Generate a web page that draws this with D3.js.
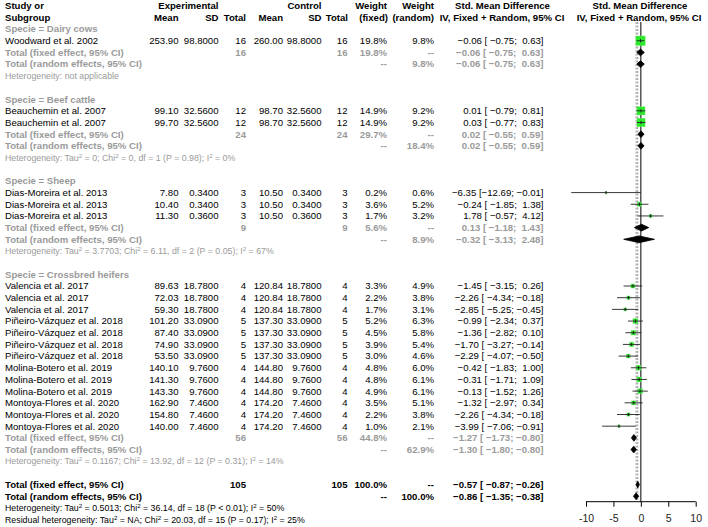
<!DOCTYPE html>
<html><head><meta charset="utf-8">
<script src="https://cdn.jsdelivr.net/npm/d3@7"></script>
<style>
body{margin:0;background:#fff;}
svg text{font-family:"Liberation Sans",Arial,sans-serif;white-space:pre;}
</style></head>
<body><svg id="c" width="708" height="527"></svg>
<script>
// ---------- data ----------
const subgroups = ["Dairy cows","Beef cattle","Sheep","Crossbred heifers"];
const studyNames = ["Woodward et al. 2002","Beauchemin et al. 2007","Beauchemin et al. 2007",
 "Dias-Moreira et al. 2013","Dias-Moreira et al. 2013","Dias-Moreira et al. 2013",
 "Valencia et al. 2017","Valencia et al. 2017","Valencia et al. 2017",
 "Piñeiro-Vázquez et al. 2018","Piñeiro-Vázquez et al. 2018","Piñeiro-Vázquez et al. 2018","Piñeiro-Vázquez et al. 2018",
 "Molina-Botero et al. 2019","Molina-Botero et al. 2019","Molina-Botero et al. 2019",
 "Montoya-Flores et al. 2020","Montoya-Flores et al. 2020","Montoya-Flores et al. 2020"];
const studyGroup = [0,1,1,2,2,2,3,3,3,3,3,3,3,3,3,3,3,3,3];
const expMean = [253.90,99.10,99.70,7.80,10.40,11.30,89.63,72.03,59.30,101.20,87.40,74.90,53.50,140.10,141.30,143.30,162.90,154.80,140.00];
const expSD   = [98.80,32.56,32.56,0.34,0.34,0.36,18.78,18.78,18.78,33.09,33.09,33.09,33.09,9.76,9.76,9.76,7.46,7.46,7.46];
const expN    = [16,12,12,3,3,3,4,4,4,5,5,5,5,4,4,4,4,4,4];
const ctlMean = [260.00,98.70,98.70,10.50,10.50,10.50,120.84,120.84,120.84,137.30,137.30,137.30,137.30,144.80,144.80,144.80,174.20,174.20,174.20];
const ctlSD   = [98.80,32.56,32.56,0.34,0.34,0.36,18.78,18.78,18.78,33.09,33.09,33.09,33.09,9.76,9.76,9.76,7.46,7.46,7.46];
const ctlN    = [16,12,12,3,3,3,4,4,4,5,5,5,5,4,4,4,4,4,4];
const wFixed  = [19.8,14.9,14.9,0.2,3.6,1.7,3.3,2.2,1.7,5.2,4.5,3.9,3.0,4.8,4.8,4.9,3.5,2.2,1.0];
const wRandom = [9.8,9.2,9.2,0.6,5.2,3.2,4.9,3.8,3.1,6.3,5.8,5.4,4.6,6.0,6.1,6.1,5.1,3.8,2.1];
const smd     = [-0.06,0.01,0.03,-6.35,-0.24,1.78,-1.45,-2.26,-2.85,-0.99,-1.36,-1.70,-2.29,-0.42,-0.31,-0.13,-1.32,-2.26,-3.99];
const smdLow  = [-0.75,-0.79,-0.77,-12.69,-1.85,-0.57,-3.15,-4.34,-5.25,-2.34,-2.82,-3.27,-4.07,-1.83,-1.71,-1.52,-2.97,-4.34,-7.06];
const smdUp   = [0.63,0.81,0.83,-0.01,1.38,4.12,0.26,-0.18,-0.45,0.37,0.10,-0.14,-0.50,1.00,1.09,1.26,0.34,-0.18,-0.91];

const grpN        = [16,24,9,56];
const grpWFixed   = [19.8,29.7,5.6,44.8];
const grpWRandom  = [9.8,18.4,8.9,62.9];
const grpFixEst   = [-0.06,0.02,0.13,-1.27];
const grpFixLow   = [-0.75,-0.55,-1.18,-1.73];
const grpFixUp    = [0.63,0.59,1.43,-0.80];
const grpRanEst   = [-0.06,0.02,-0.32,-1.30];
const grpRanLow   = [-0.75,-0.55,-3.13,-1.80];
const grpRanUp    = [0.63,0.59,2.48,-0.80];
const grpHet = ["Heterogeneity: not applicable",
 "Heterogeneity: Tau^2 = 0; Chi^2 = 0, df = 1 (P = 0.98); I^2 = 0%",
 "Heterogeneity: Tau^2 = 3.7703; Chi^2 = 6.11, df = 2 (P = 0.05); I^2 = 67%",
 "Heterogeneity: Tau^2 = 0.1167; Chi^2 = 13.92, df = 12 (P = 0.31); I^2 = 14%"];

const totalN = 105;
const overallFix = [-0.57,-0.87,-0.26];
const overallRan = [-0.86,-1.35,-0.38];
const overallText = ["Heterogeneity: Tau^2 = 0.5013; Chi^2 = 36.14, df = 18 (P < 0.01); I^2 = 50%",
 "Residual heterogeneity: Tau^2 = NA; Chi^2 = 20.03, df = 15 (P = 0.17); I^2 = 25%"];
const axisTicks = [-10,-5,0,5,10];

// ---------- layout ----------
const svg = d3.select("#c");
const rowH = 11.68, rowY0 = 5.7;
const yRow = i => rowY0 + i*rowH;
const x = d3.scaleLinear().domain([-10,10]).range([586,695.7]);
const GREY = "#9a9a9a";
const FS = 9.6, FSH = 8.8;
const col = {study:5, expMean:178.5, expSD:218.5, expN:246, ctlMean:283, ctlSD:321.5, ctlN:347.5, wF:387, wR:434, smd:543.5};

const f2 = d3.format(".2f"), f4 = d3.format(".4f"), f1 = d3.format(".1f");
const pad = (s,n) => " ".repeat(Math.max(0,n-s.length)) + s;
const ciText = (e,l,u) => f2(e) + " [" + pad(f2(l),6) + "; " + pad(f2(u),5) + "]";

function txt(xp, row, s, opt={}) {
  return svg.append("text").attr("x",xp).attr("y",yRow(row)).attr("dy","0.35em")
   .attr("text-anchor", opt.anchor || "end")
   .attr("font-size", opt.size || FS)
   .attr("font-weight", opt.bold ? "bold" : "normal")
   .attr("fill", opt.color || "#000").text(s);
}
function supText(xp,row,s,opt={}) {
  const t = svg.append("text").attr("x",xp).attr("y",yRow(row)).attr("dy","0.35em")
   .attr("font-size",opt.size||FSH).attr("fill",opt.color||"#000");
  const parts = s.split("^2");
  parts.forEach((p,i)=>{
    t.append("tspan").text(p);
    if(i<parts.length-1) t.append("tspan").attr("baseline-shift","super").attr("font-size",(opt.size||FSH)*0.7).text("2");
  });
}

// headers
const hb = {bold:true};
txt(col.study,0,"Study or",{bold:true,anchor:"start"});
txt(col.study,1,"Subgroup",{bold:true,anchor:"start"});
txt(col.expSD,0,"Experimental",hb);
txt(col.ctlSD,0,"Control",hb);
txt(col.wF,0,"Weight",hb);
txt(col.wR,0,"Weight",hb);
txt(502.5,0,"Std. Mean Difference",{bold:true,anchor:"middle"});
txt(640,0,"Std. Mean Difference",{bold:true,anchor:"middle"});
txt(col.expMean,1,"Mean",hb); txt(col.expSD,1,"SD",hb); txt(col.expN,1,"Total",hb);
txt(col.ctlMean,1,"Mean",hb); txt(col.ctlSD,1,"SD",hb); txt(col.ctlN+0.5,1,"Total",hb);
txt(col.wF+1,1,"(fixed)",hb); txt(col.wR,1,"(random)",hb);
txt(502,1,"IV, Fixed + Random, 95% CI",{bold:true,anchor:"middle"});
txt(639,1,"IV, Fixed + Random, 95% CI",{bold:true,anchor:"middle"});

// reference lines
const yTop = 22, yAxis = 501.7;
svg.append("line").attr("x1",x(overallRan[0])).attr("x2",x(overallRan[0])).attr("y1",yTop).attr("y2",yAxis-2)
  .attr("stroke","#888").attr("stroke-dasharray","2,1.5").attr("stroke-width",0.9);
svg.append("line").attr("x1",x(overallFix[0])).attr("x2",x(overallFix[0])).attr("y1",yTop).attr("y2",yAxis-2)
  .attr("stroke","#888").attr("stroke-dasharray","2,1.5").attr("stroke-width",0.9);
svg.append("line").attr("x1",x(0)).attr("x2",x(0)).attr("y1",yTop).attr("y2",yAxis)
  .attr("stroke","#000").attr("stroke-width",1);

function diamond(row,e,l,u){
  const yc = yRow(row), h = 3.4;
  svg.append("path").attr("d",`M${x(l)},${yc}L${x(e)},${yc-h}L${x(u)},${yc}L${x(e)},${yc+h}Z`)
    .attr("fill","#000").attr("stroke","#000").attr("stroke-width",0.8);
}

// rows
let row = 2;
subgroups.forEach((g,gi)=>{
  txt(col.study,row,"Specie = "+g,{bold:true,anchor:"start",color:GREY});
  row++;
  studyNames.forEach((n,i)=>{
    if(studyGroup[i]!==gi) return;
    txt(col.study,row,n,{anchor:"start"});
    txt(col.expMean,row,f2(expMean[i])); txt(col.expSD,row,f4(expSD[i])); txt(col.expN,row,expN[i]);
    txt(col.ctlMean,row,f2(ctlMean[i])); txt(col.ctlSD,row,f4(ctlSD[i])); txt(col.ctlN,row,ctlN[i]);
    txt(col.wF,row,f1(wFixed[i])+"%"); txt(col.wR,row,f1(wRandom[i])+"%");
    txt(col.smd,row,ciText(smd[i],smdLow[i],smdUp[i]));
    const yc = yRow(row), s = Math.max(1.5, 2.09*Math.sqrt(wFixed[i]));
    svg.append("rect").attr("x",x(smd[i])-s/2-0.5).attr("y",yc-s/2-0.5).attr("width",s+1).attr("height",s+1)
      .attr("fill","#7af07a").attr("opacity",0.6);
    svg.append("rect").attr("x",x(smd[i])-s/2).attr("y",yc-s/2).attr("width",s).attr("height",s)
      .attr("fill","#2ee82e");
    svg.append("line").attr("x1",x(smdLow[i])).attr("x2",x(smdUp[i])).attr("y1",yc).attr("y2",yc)
      .attr("stroke","#222").attr("stroke-width",0.9);
    svg.append("line").attr("x1",x(smd[i])).attr("x2",x(smd[i])).attr("y1",yc-1.6).attr("y2",yc+1.6)
      .attr("stroke","#222").attr("stroke-width",1);
    row++;
  });
  const go = {bold:true,color:GREY};
  txt(col.study,row,"Total (fixed effect, 95% CI)",{bold:true,anchor:"start",color:GREY});
  txt(col.expN,row,grpN[gi],go); txt(col.ctlN,row,grpN[gi],go);
  txt(col.wF,row,f1(grpWFixed[gi])+"%",go); txt(col.wR,row,"--",go);
  txt(col.smd,row,ciText(grpFixEst[gi],grpFixLow[gi],grpFixUp[gi]),go);
  diamond(row,grpFixEst[gi],grpFixLow[gi],grpFixUp[gi]);
  row++;
  txt(col.study,row,"Total (random effects, 95% CI)",{bold:true,anchor:"start",color:GREY});
  txt(col.wF,row,"--",go); txt(col.wR,row,f1(grpWRandom[gi])+"%",go);
  txt(col.smd,row,ciText(grpRanEst[gi],grpRanLow[gi],grpRanUp[gi]),go);
  diamond(row,grpRanEst[gi],grpRanLow[gi],grpRanUp[gi]);
  row++;
  supText(col.study,row,grpHet[gi],{color:GREY});
  row += 2;
});

// overall
const bo = {bold:true};
txt(col.study,row,"Total (fixed effect, 95% CI)",{bold:true,anchor:"start"});
txt(col.expN,row,totalN,bo); txt(col.ctlN,row,totalN,bo);
txt(col.wF,row,"100.0%",bo); txt(col.wR,row,"--",bo);
txt(col.smd,row,ciText(...overallFix),bo);
diamond(row,...overallFix);
row++;
txt(col.study,row,"Total (random effects, 95% CI)",{bold:true,anchor:"start"});
txt(col.wF,row,"--",bo); txt(col.wR,row,"100.0%",bo);
txt(col.smd,row,ciText(...overallRan),bo);
diamond(row,...overallRan);
row++;
supText(col.study,row,overallText[0]); row++;
supText(col.study,row,overallText[1]);

// axis
const ax = svg.append("g").attr("transform",`translate(0,${yAxis})`)
  .call(d3.axisBottom(x).tickValues(axisTicks).tickSize(5).tickPadding(8).tickFormat(d3.format("d")));
ax.select(".domain").attr("d",`M${x(-10)},0H${x(10)}`).attr("stroke","#000");
ax.selectAll(".tick line").attr("stroke","#000");
ax.selectAll(".tick text").attr("font-size",10.5).attr("font-family","Liberation Sans, Arial, sans-serif").attr("fill","#222")
  .text(d=>d<0? "-"+Math.abs(d) : d);
</script></body></html>
